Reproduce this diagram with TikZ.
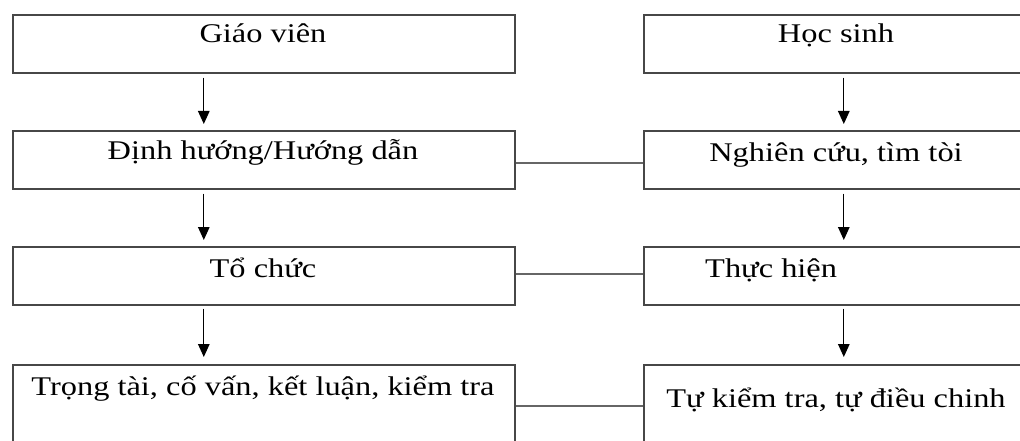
\documentclass[tikz,border=0pt]{standalone}
\usepackage{fontspec}
\setmainfont{Liberation Serif}[FakeStretch=1.2]
\usetikzlibrary{arrows.meta}
\tikzset{
  box/.style={draw=black!72, line width=1.6pt, rectangle, inner sep=0pt, anchor=north west},
  lbox/.style={box, minimum width=502pt, minimum height=58pt},
  rbox/.style={box, minimum width=385pt, minimum height=58pt},
  label/.style={anchor=base, inner sep=0pt, font=\fontsize{27}{32}\selectfont},
  flow/.style={line width=1.3pt, black, -{Triangle[length=13pt,width=11.5pt]}},
  link/.style={draw=black!60, line width=1.8pt}
}
\begin{document}
\begin{tikzpicture}[x=1pt,y=-1pt]
\useasboundingbox (0,0) rectangle (1020,441);
\clip (0,0) rectangle (1020,441);
% teacher column
\node[lbox] (l1) at (12,14) {};
\node[lbox] (l2) at (12,130) {};
\node[lbox] (l3) at (12,246) {};
\node[lbox, minimum height=82pt] (l4) at (12,364) {};
% student column
\node[rbox] (r1) at (643,14) {};
\node[rbox] (r2) at (643,130) {};
\node[rbox] (r3) at (643,246) {};
\node[rbox, minimum height=82pt] (r4) at (643,364) {};
% texts
\node[label] (t1) at (263,43) {Giáo viên};
\node[label] (t2) at (263,160) {Định hướng/Hướng dẫn};
\node[label] (t3) at (263,277) {Tổ chức};
\node[label] (t4) at (263,395) {Trọng tài, cố vấn, kết luận, kiểm tra};
\node[label] (s1) at (836,43) {Học sinh};
\node[label] (s2) at (836,161) {Nghiên cứu, tìm tòi};
\node[label, anchor=base west] (s3) at (705,277) {Thực hiện};
\node[label] (s4) at (836,407) {Tự kiểm tra, tự điều chinh};
% downward steps
\draw[flow] ([xshift=-60pt,yshift=-4pt]l1.south) -- ([xshift=-60pt,yshift=6pt]l2.north);
\draw[flow] ([xshift=-60pt,yshift=-4pt]l2.south) -- ([xshift=-60pt,yshift=6pt]l3.north);
\draw[flow] ([xshift=-60pt,yshift=-3pt]l3.south) -- ([xshift=-60pt,yshift=7pt]l4.north);
\draw[flow] ([xshift=7.5pt,yshift=-4pt]r1.south) -- ([xshift=7.5pt,yshift=6pt]r2.north);
\draw[flow] ([xshift=7.5pt,yshift=-4pt]r2.south) -- ([xshift=7.5pt,yshift=6pt]r3.north);
\draw[flow] ([xshift=7.5pt,yshift=-3pt]r3.south) -- ([xshift=7.5pt,yshift=7pt]r4.north);
% links between the columns
\draw[link] ([yshift=-3pt]l2.east) -- ([yshift=-3pt]r2.west);
\draw[link] ([yshift=2pt]l3.east) -- ([yshift=2pt]r3.west);
\draw[link] (l4.east) -- (r4.west);
\end{tikzpicture}
\end{document}
